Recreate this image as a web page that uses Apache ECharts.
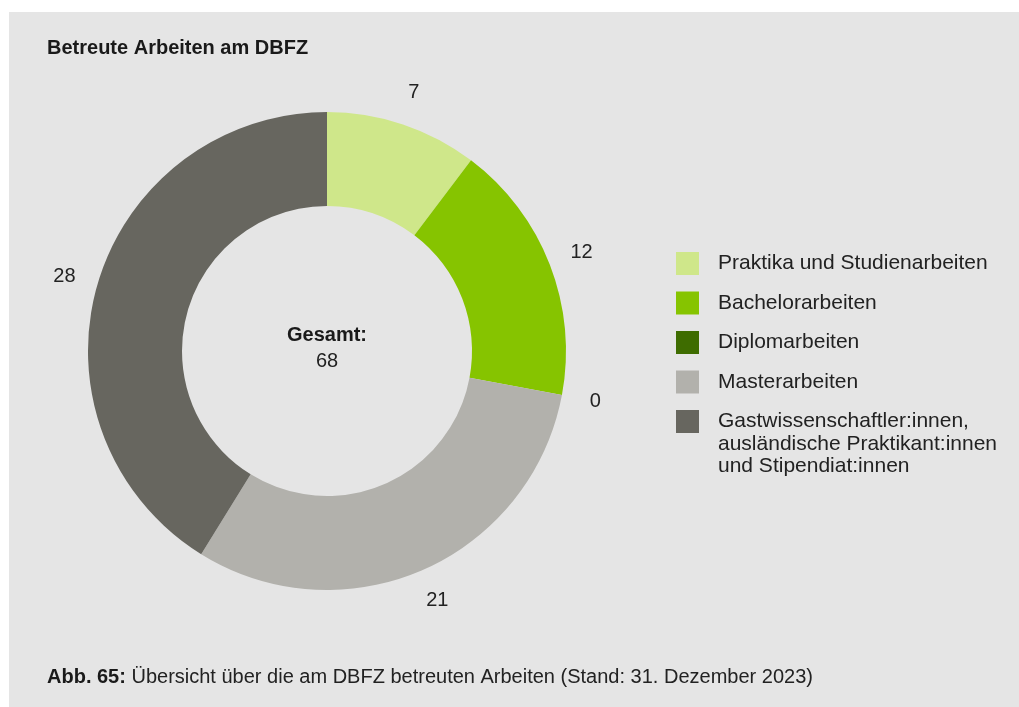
<!DOCTYPE html>
<html>
<head>
<meta charset="utf-8">
<script src="https://cdn.jsdelivr.net/npm/echarts@6/dist/echarts.min.js"></script>
<style>
  html, body { margin: 0; padding: 0; background: #ffffff; }
  #box { position: absolute; left: 9px; top: 12px; width: 1010px; height: 695px; background: #e5e5e5; }
  #chart { position: absolute; left: 0; top: 0; width: 1019px; height: 707px; }
</style>
</head>
<body>
<div id="box"></div>
<div id="chart"></div>
<script>
// Daten
var categories = [
    'Praktika und Studienarbeiten',
    'Bachelorarbeiten',
    'Diplomarbeiten',
    'Masterarbeiten',
    'Gastwissenschaftler:innen, ausländische Praktikant:innen und Stipendiat:innen'
];
var values = [7, 12, 0, 21, 28];
var colors = ['#cfe78a', '#86c400', '#3e6c00', '#b2b1ac', '#67665f'];

var total = 0;
for (var i = 0; i < values.length; i++) total += values[i];

var FONT = '"Liberation Sans", Arial, sans-serif';
var TXT = '#222222';

var pieData = categories.map(function (name, i) {
    return { name: name, value: values[i], itemStyle: { color: colors[i] } };
});
// unsichtbarer Ring nur fuer die Beschriftung
var labelData = categories.map(function (name, i) {
    return { name: name, value: values[i] };
});

var myChart = echarts.init(document.getElementById('chart'), null, { renderer: 'canvas' });

var option = {
    backgroundColor: 'transparent',
    animation: false,
    legend: {
        orient: 'vertical',
        left: 676,
        top: 252,
        padding: 0,
        itemWidth: 23,
        itemHeight: 23,
        itemGap: 16.5,
        icon: 'rect',
        selectedMode: false,
        data: categories,
        textStyle: {
            fontFamily: FONT,
            fontSize: 21,
            color: TXT,
            padding: [0, 0, 0, 14]
        },
        formatter: function (name) {
            // der letzte Eintrag ist mehrzeilig, Zeilen 2-3 kommen als graphic
            if (name === categories[4]) return 'Gastwissenschaftler:innen,';
            return name;
        }
    },
    graphic: [
        {
            type: 'text', x: 47, y: 48,
            style: { text: 'Betreute Arbeiten am DBFZ', font: 'bold 20px ' + FONT, fill: '#1a1a1a', verticalAlign: 'middle' }
        },
        {
            type: 'text', x: 327, y: 335,
            style: { text: 'Gesamt:', font: 'bold 20px ' + FONT, fill: '#1a1a1a', align: 'center', verticalAlign: 'middle' }
        },
        {
            type: 'text', x: 327, y: 361,
            style: { text: String(total), font: '20px ' + FONT, fill: TXT, align: 'center', verticalAlign: 'middle' }
        },
        {
            type: 'text', x: 718, y: 444,
            style: { text: 'ausländische Praktikant:innen', font: '21px ' + FONT, fill: TXT, verticalAlign: 'middle' }
        },
        {
            type: 'text', x: 718, y: 466.5,
            style: { text: 'und Stipendiat:innen', font: '21px ' + FONT, fill: TXT, verticalAlign: 'middle' }
        },
        {
            type: 'text', x: 47, y: 677,
            style: {
                text: '{b|Abb. 65:} Übersicht über die am DBFZ betreuten Arbeiten (Stand: 31. Dezember 2023)',
                font: '20px ' + FONT,
                fill: TXT,
                verticalAlign: 'middle',
                rich: {
                    b: { fontWeight: 'bold', fontSize: 20, fontFamily: FONT, fill: '#1a1a1a' }
                }
            }
        }
    ],
    series: [
        {
            type: 'pie',
            center: [327, 351],
            radius: [145, 239],
            startAngle: 90,
            clockwise: true,
            silent: true,
            label: { show: false },
            labelLine: { show: false },
            data: pieData
        },
        {
            type: 'pie',
            center: [327, 351],
            radius: [258, 282],
            startAngle: 90,
            clockwise: true,
            silent: true,
            itemStyle: { color: 'transparent' },
            label: {
                show: true,
                position: 'inside',
                formatter: '{c}',
                fontFamily: FONT,
                fontSize: 20,
                color: TXT
            },
            labelLine: { show: false },
            data: labelData
        }
    ]
};

myChart.setOption(option);
</script>
</body>
</html>
